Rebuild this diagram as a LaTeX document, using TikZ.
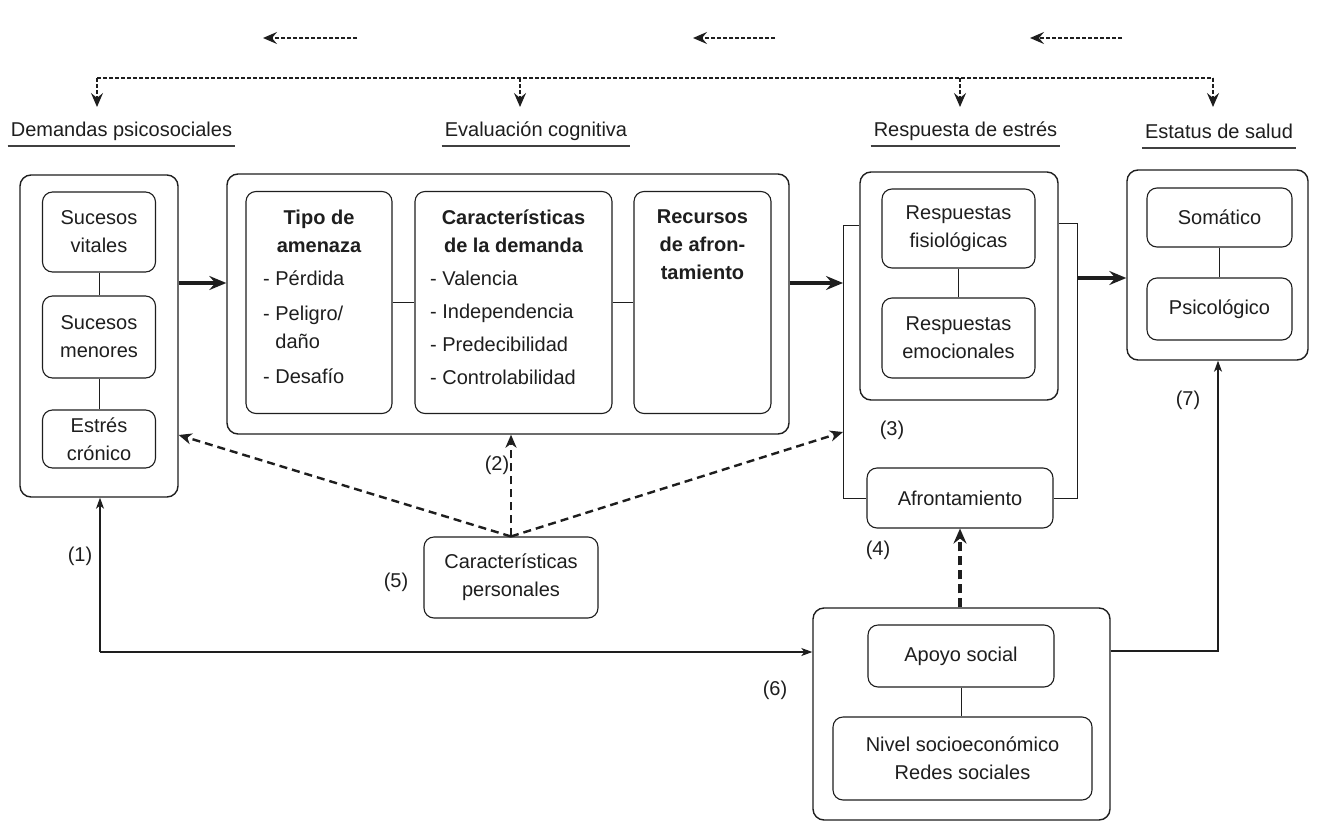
\documentclass[tikz,border=0pt]{standalone}
\usepackage{fontspec}
\setmainfont{Liberation Sans}
\usetikzlibrary{arrows.meta,calc}
\definecolor{ink}{HTML}{1E1E1E}
\newcommand\bxfont{\fontsize{20}{28}\selectfont}
\tikzset{
  outerbox/.style={draw=ink, line width=1.4pt, rounded corners=11pt, fill=white, inner sep=0pt},
  innerbox/.style={draw=ink, line width=1.1pt, rounded corners=10pt, fill=white, align=center, font=\bxfont, text=ink, inner sep=0pt},
  head/.style={font=\bxfont\bfseries, align=center, text=ink, inner sep=0pt, anchor=north},
  listtext/.style={font=\bxfont, align=left, text=ink, inner sep=0pt, anchor=north west},
  title/.style={font=\bxfont, text=ink, inner sep=0pt},
  lbl/.style={font=\bxfont, text=ink, inner sep=0pt},
  uline/.style={draw=ink!85, line width=1.6pt},
  conn/.style={draw=ink, line width=1pt},
  thickarrow/.style={draw=ink, line width=3.4pt, -{Stealth[length=17pt,width=14pt,inset=6pt]}},
  dasharrow/.style={draw=ink, line width=2.4pt, dash pattern=on 8pt off 5pt, -{Stealth[length=13pt,width=11pt,inset=4pt]}},
  thickdash/.style={draw=ink, line width=4pt, dash pattern=on 9pt off 5pt, -{Stealth[length=15pt,width=13pt,inset=5pt]}},
  thinarrow/.style={draw=ink, line width=1.1pt, -{Stealth[length=11pt,width=8pt,inset=3pt]}},
  dotline/.style={draw=ink, line width=1.6pt, dash pattern=on 4pt off 2pt},
  dotarrow/.style={draw=ink, line width=1.6pt, dash pattern=on 4pt off 2pt, -{Stealth[length=14pt,width=12pt,inset=5pt]}},
}
\begin{document}
\begin{tikzpicture}[x=1pt,y=-1pt]
\useasboundingbox[fill=white] (0,0) rectangle (1330,835);

% ---------- titles ----------
\node[title] (t1) at (121.5,131) {Demandas psicosociales};
\node[title] (t2) at (536,131) {Evaluación cognitiva};
\node[title] (t3) at (965.5,131) {Respuesta de estrés};
\node[title] (t4) at (1219,131) {Estatus de salud};
\foreach \t in {t1,t2,t3,t4}{
  \draw[uline] ([xshift=-3pt,yshift=-10pt]\t.base west) -- ([xshift=3pt,yshift=-10pt]\t.base east);
}

% ---------- top dotted feedback ----------
\coordinate (d1) at (97,78);
\coordinate (d2) at (520,78);
\coordinate (d3) at (960,78);
\coordinate (d4) at (1213,78);
\coordinate (e1) at (97,107);
\coordinate (e2) at (520,107);
\coordinate (e3) at (960,107);
\coordinate (e4) at (1213,107);
\draw[dotline] (d1) -- (d4);
\draw[dotarrow] (d1) -- (e1);
\draw[dotarrow] (d2) -- (e2);
\draw[dotarrow] (d3) -- (e3);
\draw[dotarrow] (d4) -- (e4);
\coordinate (s1a) at (357,38); \coordinate (s1b) at (263,38);
\coordinate (s2a) at (775,38); \coordinate (s2b) at (693,38);
\coordinate (s3a) at (1122,38); \coordinate (s3b) at (1030,38);
\draw[dotarrow] (s1a) -- (s1b);
\draw[dotarrow] (s2a) -- (s2b);
\draw[dotarrow] (s3a) -- (s3b);

% ---------- Demandas psicosociales ----------
\node[outerbox, minimum width=158pt, minimum height=322pt] (dp) at (99,336) {};
\node[innerbox, minimum width=113pt, minimum height=80pt] (sv) at (99,232) {Sucesos\\vitales};
\node[innerbox, minimum width=113pt, minimum height=82pt] (sm) at (99,337) {Sucesos\\menores};
\node[innerbox, minimum width=113pt, minimum height=58pt] (ec) at (99,439) {Estrés\\crónico};
\draw[conn] (sv) -- (sm);
\draw[conn] (sm) -- (ec);

% ---------- Evaluacion cognitiva ----------
\node[outerbox, minimum width=562pt, minimum height=260pt] (ev) at (508,304) {};
\node[innerbox, minimum width=146pt, minimum height=222pt] (tipo) at (319,302.5) {};
\node[innerbox, minimum width=197pt, minimum height=222pt] (car) at (513.5,302.5) {};
\node[innerbox, minimum width=137pt, minimum height=222pt] (rec) at (702.5,302.5) {};
\node[head] (tipoH) at (319,210) {Tipo de\\amenaza};
\node[listtext] (tipoL) at (263,271) {- Pérdida\\[7pt]- Peligro/\\\hphantom{- }daño\\[7pt]- Desafío};
\node[head] (carH) at (513.5,210) {Características\\de la demanda};
\node[listtext] (carL) at (430,271) {- Valencia\\[5pt]- Independencia\\[5pt]- Predecibilidad\\[5pt]- Controlabilidad};
\node[head] (recH) at (702.5,210) {Recursos\\de afron-\\tamiento};
\draw[conn] (tipo.east) -- (car.west);
\draw[conn] (car.east) -- (rec.west);

% ---------- Respuesta de estres ----------
\node[outerbox, minimum width=198pt, minimum height=228pt] (resp) at (959,286) {};
\node[innerbox, minimum width=153pt, minimum height=79pt] (rf) at (958.5,228.5) {Respuestas\\fisiológicas};
\node[innerbox, minimum width=153pt, minimum height=80pt] (re) at (958.5,338) {Respuestas\\emocionales};
\node[innerbox, minimum width=186pt, minimum height=60pt] (af) at (960,498) {Afrontamiento};
\draw[conn] (rf) -- (re);
\coordinate (bL) at (843,225);
\coordinate (bR) at (1077,223);
\draw[conn] (resp.west |- bL) -- (bL) |- (af.west);
\draw[conn] (resp.east |- bR) -- (bR) |- (af.east);

% ---------- Estatus de salud ----------
\node[outerbox, minimum width=181pt, minimum height=190pt] (est) at (1217.5,265) {};
\node[innerbox, minimum width=145pt, minimum height=59pt] (som) at (1219.5,217.5) {Somático};
\node[innerbox, minimum width=145pt, minimum height=62pt] (psi) at (1219.5,309) {Psicológico};
\draw[conn] (som) -- (psi);

% ---------- Caracteristicas personales ----------
\node[innerbox, minimum width=174pt, minimum height=81pt] (cp) at (511,577.5) {Características\\personales};

% ---------- Apoyo social ----------
\node[outerbox, minimum width=297pt, minimum height=212pt] (ap) at (961.5,714) {};
\node[innerbox, minimum width=186pt, minimum height=62pt] (aps) at (961,656) {Apoyo social};
\node[innerbox, minimum width=259pt, minimum height=83pt] (niv) at (962.5,758.5) {Nivel socioeconómico\\Redes sociales};
\draw[conn] (aps.south) -- (aps.south |- niv.north);

% ---------- main arrows ----------
\coordinate (yA) at (0,283);
\coordinate (yB) at (0,278);
\draw[thickarrow] (dp.east |- yA) -- (ev.west |- yA);
\draw[thickarrow] (ev.east |- yA) -- (bL |- yA);
\draw[thickarrow] (bR |- yB) -- (est.west |- yB);

% ---------- dashed arrows from personal characteristics ----------
\coordinate (yC) at (0,435);
\coordinate (yD) at (0,432);
\draw[dasharrow] (cp.north) -- (cp.north |- ev.south);
\draw[dasharrow] (cp.north) -- (dp.east |- yC);
\draw[dasharrow] (cp.north) -- (bL |- yD);

% ---------- bottom connections ----------
\coordinate (c1) at (100,652);
\coordinate (c7) at (1218,651);
\draw[thinarrow] (c1) -- (c1 |- dp.south);
\draw[thinarrow] (c1) -- (c1 -| ap.west);
\draw[thinarrow] (ap.east |- c7) -- (c7) -- (c7 |- est.south);
\draw[thickdash] (ap.north -| af.south) -- (af.south);

% ---------- labels ----------
\node[lbl] (n1) at (80,556) {(1)};
\node[lbl] (n2) at (497,465) {(2)};
\node[lbl] (n3) at (892,430) {(3)};
\node[lbl] (n4) at (878,550) {(4)};
\node[lbl] (n5) at (396,582) {(5)};
\node[lbl] (n6) at (775,690) {(6)};
\node[lbl] (n7) at (1188,400) {(7)};
\end{tikzpicture}
\end{document}
